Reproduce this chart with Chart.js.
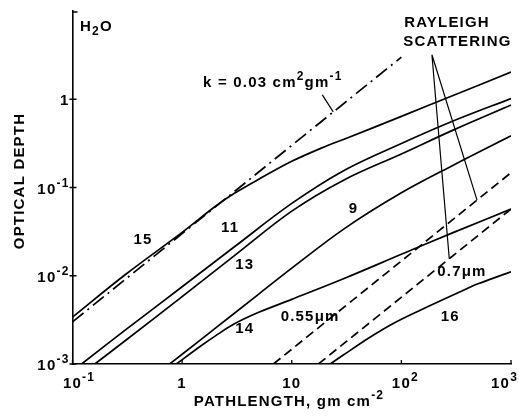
<!DOCTYPE html>
<html>
<head>
<meta charset="utf-8">
<script src="https://cdn.jsdelivr.net/npm/chart.js@4"></script>
<style>
  html, body { margin: 0; padding: 0; background: #fff; }
</style>
</head>
<body>
<canvas id="myChart" width="519" height="417"></canvas>
<script>
// axis ticks
const xTicks = [0.1, 1, 10, 100, 1000]
const xTickLabels = ['10^{-1}', '1', '10', '10^{2}', '10^{3}']
const yTicks = [0.001, 0.01, 0.1, 1]
const yTickLabels = ['10^{-3}', '10^{-2}', '10^{-1}', '1']

// curves, pathlength (gm cm^-2) vs optical depth
const path15 = [0.1, 0.3, 1, 2, 3, 5, 10, 20, 30, 100, 300, 1000]
const depth15 = [0.0034, 0.0102, 0.031, 0.061, 0.086, 0.124, 0.198, 0.29, 0.352, 0.64, 1.11, 2.03]
const path11 = [0.121, 0.3, 1, 3, 10, 30, 100, 300, 1000]
const depth11 = [0.001, 0.0024, 0.0075, 0.0213, 0.066, 0.156, 0.315, 0.57, 1.02]
const path13 = [0.16, 0.3, 1, 3, 10, 30, 100, 300, 1000]
const depth13 = [0.001, 0.00182, 0.0058, 0.0169, 0.054, 0.122, 0.24, 0.45, 0.86]
const path9 = [0.77, 1, 2, 5, 10, 30, 100, 300, 1000]
const depth9 = [0.001, 0.00129, 0.00253, 0.0062, 0.0122, 0.034, 0.087, 0.18, 0.385]
const path14 = [0.886, 1.5, 2, 3, 5, 10, 30, 100, 300, 1000]
const depth14 = [0.001, 0.00162, 0.00207, 0.00285, 0.00385, 0.0054, 0.0093, 0.0175, 0.031, 0.057]
const path16 = [22.4, 30, 50, 85, 150, 344, 500, 1000]
const depth16 = [0.001, 0.00128, 0.00196, 0.0029, 0.0041, 0.0066, 0.0081, 0.0111]

// k = 0.03 line and rayleigh lines
const pathK = [0.1, 100]
const depthK = [0.003, 3.0]
const path055 = [6.8, 1000]
const depth055 = [0.001, 0.147]
const path07 = [17.5, 1000]
const depth07 = [0.001, 0.057]

// text on the plot, placed in data coordinates
const notes = [
  { text: 'H_{2}O', x: 0.117, y: 6.6, align: 'left' },
  { text: 'k = 0.03 cm^{2}gm^{-1}', x: 1.55, y: 1.54, align: 'left' },
  { text: 'RAYLEIGH', x: 106, y: 7.3, align: 'left' },
  { text: 'SCATTERING', x: 104, y: 4.5, align: 'left' },
  { text: '15', x: 0.44, y: 0.0253, align: 'center' },
  { text: '11', x: 2.74, y: 0.0347, align: 'center' },
  { text: '13', x: 3.73, y: 0.0132, align: 'center' },
  { text: '9', x: 36.6, y: 0.057, align: 'center' },
  { text: '14', x: 3.73, y: 0.0025, align: 'center' },
  { text: '0.55μm', x: 14.7, y: 0.00342, align: 'center' },
  { text: '0.7μm', x: 357, y: 0.0111, align: 'center' },
  { text: '16', x: 279, y: 0.00342, align: 'center' }
]
// pointer lines [from, to]
const pointers = [
  [[19.0, 1.12], [23.9, 0.72]],
  [[190, 3.19], [273.5, 0.0156]],
  [[190, 3.19], [490, 0.072]]
]

const font = (size) => 'bold ' + size + 'px "Liberation Sans", Arial, sans-serif'

function parts(str) {
  const out = []
  const re = /([\^_])\{([^}]*)\}|([^\^_]+)/g
  let m
  while ((m = re.exec(str))) {
    if (m[3]) out.push({ t: m[3], k: 0 })
    else out.push({ t: m[2], k: m[1] === '^' ? 1 : -1 })
  }
  return out
}

// text with ^{sup} and _{sub}
function drawRich(ctx, str, x, y, align, size, firstCentered) {
  const ps = parts(str)
  let w = 0
  ps.forEach(p => {
    ctx.font = font(p.k ? Math.round(size * 0.78) : size)
    p.w = ctx.measureText(p.t).width
    w += p.w
  })
  let cx = x
  if (firstCentered) {
    cx = x - ps[0].w / 2
    if (cx + w > 518) cx = 518 - w
  } else if (align === 'center') cx = x - w / 2
  else if (align === 'right') cx = x - w
  ctx.textAlign = 'left'
  ctx.textBaseline = 'middle'
  ps.forEach(p => {
    ctx.font = font(p.k ? Math.round(size * 0.78) : size)
    const dy = p.k === 1 ? -size * 0.42 : p.k === -1 ? size * 0.3 : 0
    ctx.fillText(p.t, cx, y + dy)
    cx += p.w
  })
}

const inkPlugin = {
  id: 'ink',
  afterDraw(chart) {
    const { ctx, chartArea: a } = chart
    const sx = chart.scales.x
    const sy = chart.scales.y
    ctx.save()
    ctx.fillStyle = '#000'
    ctx.strokeStyle = '#000'
    if ('letterSpacing' in ctx) ctx.letterSpacing = '1.2px'

    // tick marks
    ctx.lineWidth = 1.3
    ctx.beginPath()
    yTicks.forEach(v => {
      const py = sy.getPixelForValue(v)
      ctx.moveTo(a.left - 3, py)
      ctx.lineTo(a.left + 4, py)
    })
    xTicks.forEach(v => {
      const px = sx.getPixelForValue(v)
      ctx.moveTo(px, a.bottom)
      ctx.lineTo(px, a.bottom - 4)
    })
    ctx.moveTo(a.left, a.top + 1)
    ctx.lineTo(a.left + 5, a.top + 1)
    ctx.stroke()

    // tick labels
    yTicks.forEach((v, i) => {
      drawRich(ctx, yTickLabels[i], a.left - 3, sy.getPixelForValue(v) + 2, 'right', 15)
    })
    xTicks.forEach((v, i) => {
      drawRich(ctx, xTickLabels[i], sx.getPixelForValue(v), a.bottom + 20, 'center', 15, true)
    })

    // axis titles
    drawRich(ctx, 'PATHLENGTH, gm cm^{-2}', 289, 402, 'center', 15)
    ctx.save()
    ctx.translate(20, 181)
    ctx.rotate(-Math.PI / 2)
    drawRich(ctx, 'OPTICAL DEPTH', 0, 0, 'center', 15)
    ctx.restore()

    // notes
    notes.forEach(n => {
      drawRich(ctx, n.text, sx.getPixelForValue(n.x), sy.getPixelForValue(n.y), n.align, 15)
    })

    // pointers
    ctx.lineWidth = 1.2
    ctx.beginPath()
    pointers.forEach(p => {
      ctx.moveTo(sx.getPixelForValue(p[0][0]), sy.getPixelForValue(p[0][1]))
      ctx.lineTo(sx.getPixelForValue(p[1][0]), sy.getPixelForValue(p[1][1]))
    })
    ctx.stroke()
    ctx.restore()
  }
}

function series(xs, ys, dash) {
  return {
    data: xs.map((v, i) => ({ x: v, y: ys[i] })),
    showLine: true,
    borderColor: '#000',
    borderWidth: 1.7,
    borderDash: dash || [],
    pointRadius: 0,
    tension: 0.35,
    fill: false
  }
}

let ctx = document.getElementById('myChart').getContext('2d')
let myChart = new Chart(ctx, {
  type: 'scatter',
  data: {
    datasets: [
      series(pathK, depthK, [14, 5, 2, 5]),
      series(path15, depth15),
      series(path11, depth11),
      series(path13, depth13),
      series(path9, depth9),
      series(path14, depth14),
      series(path16, depth16),
      series(path055, depth055, [9, 5]),
      series(path07, depth07, [9, 5])
    ]
  },
  plugins: [inkPlugin],
  options: {
    responsive: false,
    animation: false,
    layout: { padding: { top: 11, right: 8, left: 0, bottom: 0 } },
    plugins: { legend: { display: false }, tooltip: { enabled: false } },
    scales: {
      x: {
        type: 'logarithmic',
        min: 0.1,
        max: 1000,
        ticks: { display: false },
        grid: { display: false },
        border: { display: true, color: '#000', width: 1.6 },
        afterFit: (s) => { s.height = 53 }
      },
      y: {
        type: 'logarithmic',
        min: 0.001,
        max: 10,
        ticks: { display: false },
        grid: { display: false },
        border: { display: true, color: '#000', width: 1.6 },
        afterFit: (s) => { s.width = 72.5 }
      }
    }
  }
})
</script>
</body>
</html>
